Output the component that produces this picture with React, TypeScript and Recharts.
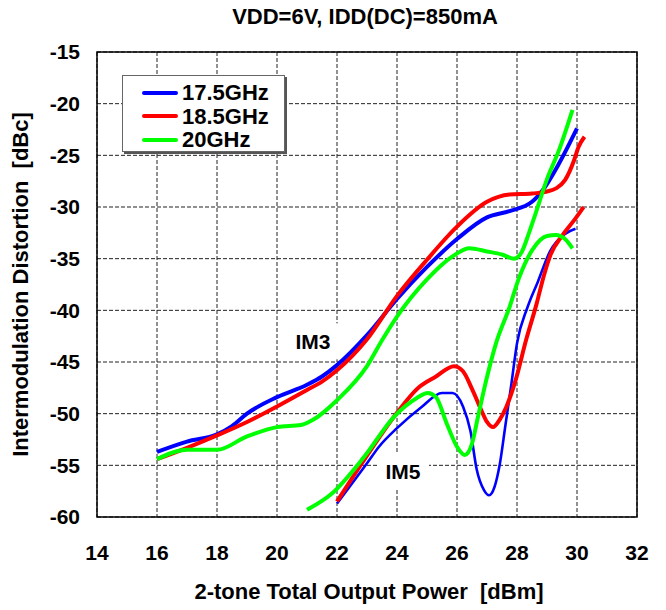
import React from "react";
import {
  LineChart,
  Line,
  XAxis,
  YAxis,
  CartesianGrid,
  ReferenceArea,
  ReferenceDot,
  Label,
} from "recharts";

// x: 2-tone total output power [dBm], y: intermodulation distortion [dBc]
const im3At175Pwr = [16, 17, 18, 18.5, 19, 20, 21, 21.5, 22, 23, 24, 25, 26, 27, 27.75, 28.5, 28.85, 29.4, 30];
const im3At175Dbc = [-53.7, -52.7, -52.0, -51.2, -50.0, -48.4, -47.2, -46.4, -45.3, -42.4, -38.9, -35.8, -33.1, -31.0, -30.4, -29.5, -28.4, -25.8, -22.4];

const im3At185Pwr = [16, 17, 18, 19, 20, 21, 21.5, 22, 23, 24, 25, 26, 27, 27.75, 28.5, 29, 29.3, 29.6, 29.9, 30.05, 30.25];
const im3At185Dbc = [-54.4, -53.3, -52.1, -50.8, -49.3, -47.7, -46.9, -45.8, -42.8, -38.6, -35.1, -31.9, -29.5, -28.8, -28.7, -28.5, -28.2, -27.4, -25.5, -24.2, -23.2];

const im3At20Pwr = [16, 17, 18, 19, 20, 20.8, 21.2, 22, 23, 23.5, 24, 25, 26, 26.4, 27, 27.5, 27.9, 28.15, 28.4, 28.6, 29, 29.4, 29.85];
const im3At20Dbc = [-54.4, -53.5, -53.5, -52.2, -51.3, -51.1, -50.6, -48.7, -45.4, -42.9, -40.6, -37.0, -34.5, -34.0, -34.3, -34.6, -35.0, -34.4, -32.5, -30.8, -27.3, -24.5, -20.6];

const im5At175Pwr = [22, 23, 23.4, 24, 24.8, 25.5, 25.85, 26.2, 26.45, 26.65, 26.9, 27.07, 27.25, 27.42, 27.62, 27.8, 28.0, 28.35, 28.7, 29.1, 29.6, 29.95];
const im5At175Dbc = [-58.7, -54.8, -53.2, -51.4, -49.4, -48.0, -48.0, -49.3, -51.7, -55.3, -57.4, -57.9, -57.1, -55.0, -51.0, -47.4, -43.2, -39.7, -37.2, -34.3, -32.6, -32.1];

const im5At185Pwr = [22, 22.9, 23.9, 24.75, 25.3, 25.9, 26.2, 26.5, 26.8, 27.0, 27.2, 27.42, 27.65, 27.95, 28.3, 28.65, 28.9, 29.12, 29.5, 29.9, 30.22];
const im5At185Dbc = [-58.5, -54.5, -50.3, -47.4, -46.4, -45.4, -45.9, -47.6, -49.6, -50.8, -51.3, -50.6, -49.3, -46.8, -42.9, -39.4, -36.6, -34.6, -32.8, -31.3, -30.0];

const im5At20Pwr = [21, 21.8, 22.9, 23.9, 24.65, 25.03, 25.3, 25.65, 26.0, 26.26, 26.5, 26.7, 26.98, 27.3, 27.75, 28.05, 28.5, 29.0, 29.3, 29.6, 29.85];
const im5At20Dbc = [-59.3, -57.8, -54.2, -50.3, -48.5, -48.0, -48.4, -50.9, -53.2, -54.0, -52.9, -50.3, -46.7, -43.2, -39.7, -37.0, -34.2, -32.8, -32.7, -33.1, -34.0];

const xTicks = [14, 16, 18, 20, 22, 24, 26, 28, 30, 32];
const yTicks = [-60, -55, -50, -45, -40, -35, -30, -25, -20, -15];

const legendLabels = ["17.5GHz", "18.5GHz", "20GHz"];
const legendColors = ["#0000ff", "#ff0000", "#00ff00"];

const curveTags = ["IM3", "IM5"];
const curveTagPwr = [21.2, 24.2];
const curveTagDbc = [-43.0, -55.6];

const FONT = "Arial, 'Liberation Sans', sans-serif";

const toPoints = (xs: number[], ys: number[]) =>
  xs.map((x, i) => ({ pout: x, dbc: ys[i] }));

const series = [
  { key: "im3-17.5", data: toPoints(im3At175Pwr, im3At175Dbc), color: legendColors[0], width: 4 },
  { key: "im3-18.5", data: toPoints(im3At185Pwr, im3At185Dbc), color: legendColors[1], width: 4 },
  { key: "im3-20", data: toPoints(im3At20Pwr, im3At20Dbc), color: legendColors[2], width: 4 },
  { key: "im5-17.5", data: toPoints(im5At175Pwr, im5At175Dbc), color: legendColors[0], width: 2.6 },
  { key: "im5-18.5", data: toPoints(im5At185Pwr, im5At185Dbc), color: legendColors[1], width: 4 },
  { key: "im5-20", data: toPoints(im5At20Pwr, im5At20Dbc), color: legendColors[2], width: 4 },
];

function CurveTag({ cx, cy, text }: { cx?: number; cy?: number; text: string }) {
  if (cx == null || cy == null) return null;
  return (
    <g>
      <rect x={cx - 26} y={cy - 18} width={52} height={36} fill="#fff" />
      <text
        x={cx}
        y={cy}
        dy="0.36em"
        textAnchor="middle"
        fontFamily={FONT}
        fontWeight="bold"
        fontSize={21}
        fill="#000"
      >
        {text}
      </text>
    </g>
  );
}

function YTitle({ viewBox }: any) {
  const cy = viewBox.y + viewBox.height / 2;
  const x = 20;
  return (
    <text
      x={x}
      y={cy}
      transform={`rotate(-90, ${x}, ${cy})`}
      textAnchor="middle"
      fontFamily={FONT}
      fontWeight="bold"
      fontSize={22}
      fill="#000"
      style={{ whiteSpace: "pre" }}
    >
      {"Intermodulation Distortion  [dBc]"}
    </text>
  );
}

function XTitle({ viewBox }: any) {
  return (
    <text
      x={viewBox.x + viewBox.width / 2 + 2}
      y={viewBox.y + 82}
      textAnchor="middle"
      fontFamily={FONT}
      fontWeight="bold"
      fontSize={22}
      fill="#000"
      style={{ whiteSpace: "pre" }}
    >
      {"2-tone Total Output Power  [dBm]"}
    </text>
  );
}

function LegendBox() {
  return (
    <div
      style={{
        position: "absolute",
        left: 114,
        top: 67,
        width: 163,
        height: 77,
        boxSizing: "border-box",
        border: "1px solid #666",
        boxShadow: "2px 2px 0 #555",
        background: "#fff",
        padding: "5px 0 0 19px",
        fontFamily: FONT,
      }}
    >
      {legendLabels.map((label, i) => (
        <div
          key={label}
          style={{ display: "flex", alignItems: "center", height: 23.5 }}
        >
          <span
            style={{
              display: "inline-block",
              width: 36,
              height: 4,
              borderRadius: 2,
              background: legendColors[i],
              marginRight: 4,
            }}
          />
          <span
            style={{
              fontSize: 22,
              fontWeight: "bold",
              lineHeight: "23.5px",
              color: "#000",
            }}
          >
            {label}
          </span>
        </div>
      ))}
    </div>
  );
}

export default function App() {
  const tickStyle = {
    fontSize: 21,
    fontWeight: "bold",
    fill: "#000",
    fontFamily: FONT,
  };

  return (
    <div style={{ position: "relative", width: 650, height: 600, background: "#fff" }}>
      <div
        style={{
          position: "absolute",
          left: 357,
          top: -2,
          transform: "translateX(-50%)",
          whiteSpace: "nowrap",
          fontFamily: FONT,
          fontWeight: "bold",
          fontSize: 22,
          lineHeight: "22px",
          color: "#000",
        }}
      >
        VDD=6V, IDD(DC)=850mA
      </div>
      <LineChart
        width={650}
        height={600}
        margin={{ top: 44, right: 21, left: 0, bottom: 6 }}
      >
        <CartesianGrid stroke="#222" strokeWidth={1} strokeDasharray="4 2" />
        <XAxis
          dataKey="pout"
          type="number"
          domain={[14, 32]}
          ticks={xTicks}
          allowDataOverflow
          height={85}
          tickLine={false}
          axisLine={false}
          tickSize={0}
          tickMargin={28}
          tick={tickStyle}
        >
          <Label content={XTitle} />
        </XAxis>
        <YAxis
          type="number"
          domain={[-60, -15]}
          ticks={yTicks}
          allowDataOverflow
          width={89}
          tickLine={false}
          axisLine={false}
          tickSize={0}
          tickMargin={17}
          tick={tickStyle}
        >
          <Label content={YTitle} />
        </YAxis>
        {curveTags.map((tag, i) => (
          <ReferenceDot
            key={tag}
            x={curveTagPwr[i]}
            y={curveTagDbc[i]}
            r={0}
            shape={(p: any) => <CurveTag cx={p.cx} cy={p.cy} text={tag} />}
          />
        ))}
        {series.map((s) => (
          <Line
            key={s.key}
            data={s.data}
            dataKey="dbc"
            type="monotone"
            stroke={s.color}
            strokeWidth={s.width}
            dot={false}
            activeDot={false}
            isAnimationActive={false}
          />
        ))}
        <ReferenceArea
          x1={14}
          x2={32}
          y1={-60}
          y2={-15}
          fill="none"
          stroke="#000"
          strokeWidth={1.5}
        />
      </LineChart>
      <LegendBox />
    </div>
  );
}
